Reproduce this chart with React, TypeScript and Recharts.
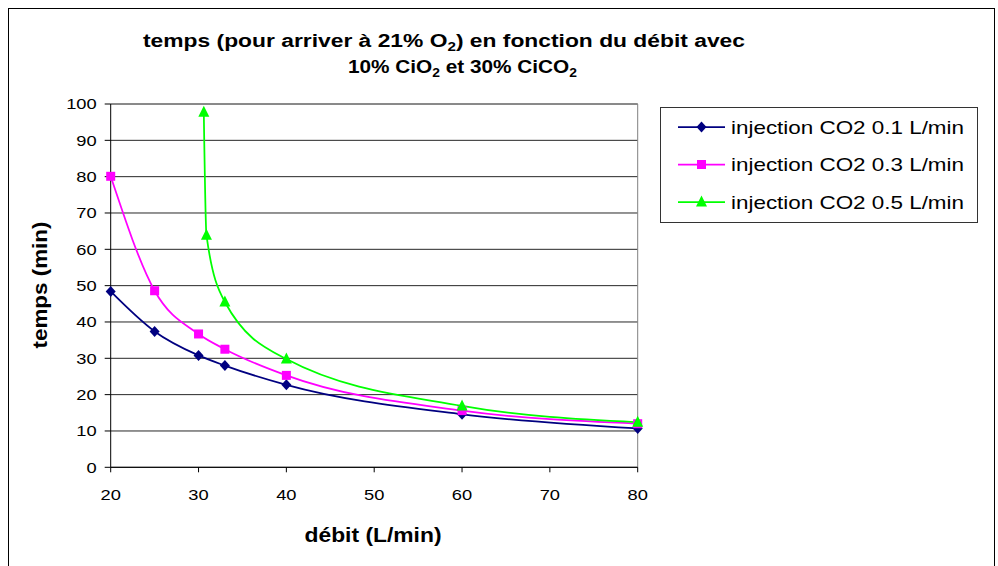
import React from 'react';
import {
  LineChart, Line, XAxis, YAxis, CartesianGrid, ReferenceLine, Legend, Customized,
} from 'recharts';

// débit (L/min) and temps (min)
const debit = [20, 25, 30, 33, 40, 60, 80];
const temps01 = [48.4, 37.4, 30.8, 28.0, 22.7, 14.6, 10.7];
const temps03 = [80.1, 48.6, 36.7, 32.5, 25.3, 15.6, 12.0];
const debit05 = [30.6, 30.9, 33, 40, 60, 80];
const temps05 = [97.7, 63.9, 45.5, 29.8, 16.9, 12.4];

const xTicks = [20, 30, 40, 50, 60, 70, 80];
const yTicks = [0, 10, 20, 30, 40, 50, 60, 70, 80, 90, 100];

const seriesNames = [
  'injection CO2 0.1 L/min',
  'injection CO2 0.3 L/min',
  'injection CO2 0.5 L/min',
];

const FONT = '"Liberation Sans", Arial, sans-serif';

const toPoints = (xs: number[], ys: number[]) => xs.map((d, i) => ({ d, t: ys[i] }));

const Diamond = ({ cx, cy, color }: any) => (
  <polygon points={`${cx},${cy - 5.5} ${cx + 5},${cy} ${cx},${cy + 5.5} ${cx - 5},${cy}`} fill={color} />
);
const Square = ({ cx, cy, color }: any) => (
  <rect x={cx - 4.5} y={cy - 4.5} width={9} height={9} fill={color} />
);
const Triangle = ({ cx, cy, color }: any) => (
  <polygon points={`${cx},${cy - 6.5} ${cx + 5.5},${cy + 4.5} ${cx - 5.5},${cy + 4.5}`} fill={color} />
);

const series = [
  { name: seriesNames[0], data: toPoints(debit, temps01), color: '#000080', Marker: Diamond },
  { name: seriesNames[1], data: toPoints(debit, temps03), color: '#FF00FF', Marker: Square },
  { name: seriesNames[2], data: toPoints(debit05, temps05), color: '#00FF00', Marker: Triangle },
];

const XTick = ({ x, y, payload }: any) => (
  <g transform={`translate(${x},${y})`}>
    <text y={28} textAnchor="middle" fontSize={15} fontFamily={FONT} fill="#000" transform="scale(1.22,1)">
      {payload.value}
    </text>
  </g>
);

const YTick = ({ x, y, payload }: any) => (
  <g transform={`translate(${x},${y})`}>
    <text dy={5.3} textAnchor="end" fontSize={15} fontFamily={FONT} fill="#000" transform="scale(1.22,1)">
      {payload.value}
    </text>
  </g>
);

const LegendBox = () => (
  <svg width={318} height={116} style={{ display: 'block' }}>
    <rect x={0.5} y={0.5} width={317} height={115} fill="#fff" stroke="#333" />
    {series.map((s, i) => {
      const cy = 20 + i * 37.5;
      const M = s.Marker;
      return (
        <g key={s.name}>
          <line x1={18} x2={65} y1={cy} y2={cy} stroke={s.color} strokeWidth={1.75} />
          <M cx={41.5} cy={cy} color={s.color} />
          <text x={71} y={cy + 6.5} fontSize={18.5} fontFamily={FONT} fill="#000"
            textLength={233} lengthAdjust="spacingAndGlyphs">
            {s.name}
          </text>
        </g>
      );
    })}
  </svg>
);

const Decor = () => (
  <g fontFamily={FONT} fill="#000">
    <rect x={8.5} y={8.5} width={986} height={600} fill="none" stroke="#000" />
    <text x={143} y={46.7} fontSize={18} fontWeight="bold" textLength={602} lengthAdjust="spacingAndGlyphs">
      temps (pour arriver à 21% O<tspan dy={4} fontSize={12}>2</tspan><tspan dy={-4}>) en fonction du débit avec</tspan>
    </text>
    <text x={348} y={72.7} fontSize={18} fontWeight="bold" textLength={229} lengthAdjust="spacingAndGlyphs">
      10% CiO<tspan dy={4} fontSize={12}>2</tspan><tspan dy={-4}> et 30% CiCO</tspan><tspan dy={4} fontSize={12}>2</tspan>
    </text>
    <text x={373} y={542} fontSize={20} fontWeight="bold" textAnchor="middle" textLength={137} lengthAdjust="spacingAndGlyphs">
      débit (L/min)
    </text>
    <text transform="translate(47,285) rotate(-90)" fontSize={20} fontWeight="bold" textAnchor="middle"
      textLength={127} lengthAdjust="spacingAndGlyphs">
      temps (min)
    </text>
  </g>
);

export default function App() {
  return (
    <div style={{ position: 'absolute', left: 0, top: 0, width: 998, height: 566, background: '#fff' }}>
      <LineChart width={998} height={566} margin={{ top: 104, right: 360.3, bottom: 58.7, left: 50.7 }}>
        <CartesianGrid vertical={false} stroke="#000" strokeOpacity={0.85} />
        <ReferenceLine y={100} stroke="#808080" />
        <ReferenceLine x={80} stroke="#808080" />
        <XAxis
          type="number"
          dataKey="d"
          domain={[20, 80]}
          ticks={xTicks}
          height={40}
          tickSize={5}
          tickMargin={0}
          tick={<XTick />}
          axisLine={{ stroke: '#000' }}
          tickLine={{ stroke: '#000' }}
        />
        <YAxis
          type="number"
          domain={[0, 100]}
          ticks={yTicks}
          width={60}
          tickSize={6}
          tickMargin={8}
          tick={<YTick />}
          axisLine={{ stroke: '#000' }}
          tickLine={{ stroke: '#000' }}
        />
        {series.map((s) => (
          <Line
            key={s.name}
            name={s.name}
            data={s.data}
            dataKey="t"
            type="monotone"
            stroke={s.color}
            strokeWidth={1.75}
            dot={(p: any) => <s.Marker key={`${s.name}-${p.index}`} cx={p.cx} cy={p.cy} color={s.color} />}
            activeDot={false}
            isAnimationActive={false}
          />
        ))}
        <Legend
          layout="horizontal"
          verticalAlign="middle"
          align="center"
          content={<LegendBox />}
          wrapperStyle={{ left: 660, top: 107, width: 318, height: 116 }}
        />
        <Customized component={<Decor />} />
      </LineChart>
    </div>
  );
}
